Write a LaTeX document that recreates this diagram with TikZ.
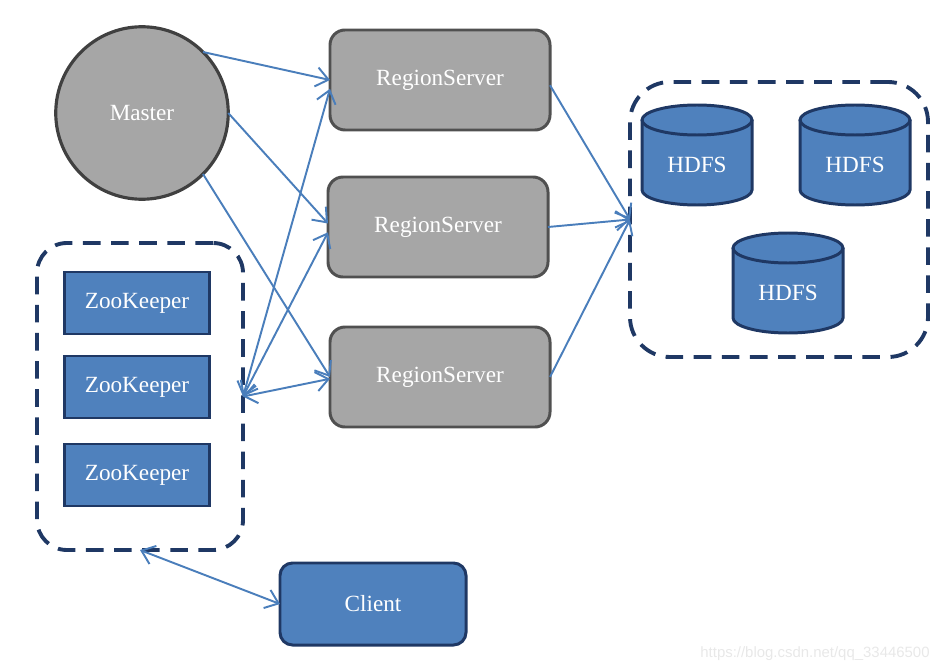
\documentclass[tikz,border=0pt]{standalone}
\usepackage{fontspec}
\setmainfont{Liberation Serif}
\newfontfamily\urlfont{Liberation Sans}
\usetikzlibrary{arrows.meta, positioning}

\definecolor{boxgray}{HTML}{A6A6A6}
\definecolor{edgegray}{HTML}{505050}
\definecolor{boxblue}{HTML}{4F81BD}
\definecolor{edgeblue}{HTML}{1F3864}
\definecolor{linkblue}{HTML}{4A7EBB}

% cylinder for one HDFS store: name, x, y
\newcommand{\hdfsdisk}[3]{%
	\fill[boxblue] (#2-5.5,#3+3.5) -- (#2-5.5,#3-3.5) arc[start angle=180, end angle=360, x radius=5.5, y radius=1.5]
		-- (#2+5.5,#3+3.5) arc[start angle=0, end angle=180, x radius=5.5, y radius=1.5] -- cycle;
	\draw[edgeblue, line width=1.7pt] (#2-5.5,#3+3.5) -- (#2-5.5,#3-3.5) arc[start angle=180, end angle=360, x radius=5.5, y radius=1.5]
		-- (#2+5.5,#3+3.5);
	\draw[edgeblue, line width=1.7pt] (#2,#3+3.5) ellipse[x radius=5.5, y radius=1.5];
	\node[text=white] (#1) at (#2,#3-1) {HDFS};
}

\begin{document}
\begin{tikzpicture}[x=0.2cm, y=0.2cm, font=\fontsize{13.2}{15}\selectfont,
	graybox/.style={draw=edgegray, fill=boxgray, line width=1.7pt, rounded corners=0.3cm, text=white, minimum width=4.4cm, minimum height=2cm, outer sep=0pt},
	bluebox/.style={draw=edgeblue, fill=boxblue, line width=1.7pt, text=white, outer sep=0pt},
	group/.style={draw=edgeblue, line width=2.2pt, dash pattern=on 10pt off 6pt, outer sep=0pt},
	link/.style={draw=linkblue, line width=1.1pt, -{Straight Barb[length=7pt, width=11pt]}},
	both/.style={link, {Straight Barb[length=7pt, width=11pt]}-{Straight Barb[length=7pt, width=11pt]}}]

	\useasboundingbox (0,0) rectangle (94.8,67);

	% master and region servers
	\node[circle, draw=black!75, fill=boxgray, line width=1.8pt, minimum size=3.45cm, inner sep=0pt, outer sep=0pt, text=white] (master) at (14.2,55.7) {Master};
	\node[graybox] (rs1) at (44.0,59.0) {RegionServer};
	\node[graybox] (rs2) at (43.8,44.3) {RegionServer};
	\node[graybox] (rs3) at (44.0,29.3) {RegionServer};

	% zookeeper quorum
	\node[group, rounded corners=0.6cm, minimum width=4.12cm, minimum height=6.14cm] (zkgroup) at (14.0,27.35) {};
	\node[bluebox, minimum width=2.9cm, minimum height=1.24cm] (zk1) at (13.7,36.7) {ZooKeeper};
	\node[bluebox, minimum width=2.9cm, minimum height=1.24cm] (zk2) at (13.7,28.3) {ZooKeeper};
	\node[bluebox, minimum width=2.9cm, minimum height=1.24cm] (zk3) at (13.7,19.5) {ZooKeeper};

	% hdfs
	\node[group, rounded corners=0.8cm, minimum width=5.96cm, minimum height=5.5cm] (hdfsgroup) at (77.9,45.05) {};
	\hdfsdisk{hdfs1}{69.7}{51.5}
	\hdfsdisk{hdfs2}{85.5}{51.5}
	\hdfsdisk{hdfs3}{78.8}{38.7}

	% client
	\node[bluebox, rounded corners=0.25cm, minimum width=3.72cm, minimum height=1.64cm] (client) at (37.3,6.6) {Client};

	% links
	\draw[link] (master.45) -- (rs1.west);
	\draw[link] (master.east) -- ([yshift=2pt]rs2.west);
	\draw[link] (master.-45) -- (rs3.west);
	\draw[both] (zkgroup.east) -- ([yshift=-5pt]rs1.west);
	\draw[both] (zkgroup.east) -- ([yshift=-3pt]rs2.west);
	\draw[both] (zkgroup.east) -- ([yshift=-1pt]rs3.west);
	\draw[link] ([yshift=-3pt]rs1.east) -- (hdfsgroup.west);
	\draw[link] (rs2.east) -- (hdfsgroup.west);
	\draw[link] (rs3.east) -- (hdfsgroup.west);
	\draw[both] (zkgroup.south) -- (client.west);

	\node[text=black!9, font=\urlfont\fontsize{8.5}{10}\selectfont] (mark) at (81.5,1.6) {https://blog.csdn.net/qq\_33446500};
\end{tikzpicture}
\end{document}
